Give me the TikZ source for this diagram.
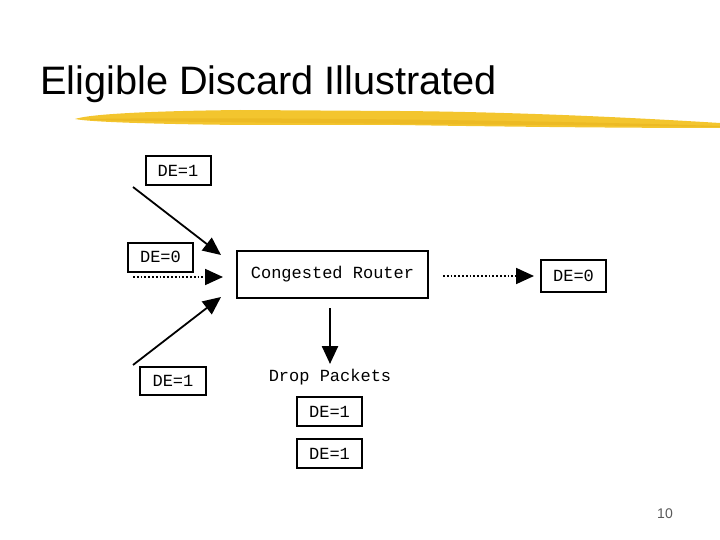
\documentclass[tikz,border=0pt]{standalone}
\usepackage{fontspec}
\setmainfont{Liberation Sans}
\newfontfamily\monofont{Liberation Mono}
\usepackage{tikz}
\usetikzlibrary{shapes,arrows,arrows.meta,positioning}
\definecolor{brush}{RGB}{243, 197, 46}
\definecolor{brushdark}{RGB}{232, 180, 30}

\tikzset{
  debox/.style={draw, line width=2pt, font=\monofont\fontsize{17}{17}\selectfont, minimum width=65pt, minimum height=29pt, inner sep=0pt},
  solidarrow/.style={line width=1.8pt, -{Triangle[length=18pt,width=16pt]}},
  dotarrow/.style={line width=1.8pt, dotted, -{Triangle[length=18pt,width=16pt]}}
}

\begin{document}
\begin{tikzpicture}[x=1pt,y=-1pt]
\useasboundingbox (0,0) rectangle (720,540);
\node [anchor=base west, inner sep=0pt, font=\fontsize{39.7}{44}\selectfont] (title) at (40,95) {Eligible Discard Illustrated};
% yellow brush line under the title
\fill [brush] (75,119) .. controls (90,114) and (150,111) .. (240,110) -- (400,111) .. controls (520,112) and (640,118) .. (720,123) -- (720,128) .. controls (640,128) and (520,127) .. (400,125) -- (240,125) .. controls (150,124) and (90,122) .. (75,119) -- cycle;
\fill [brushdark, opacity=0.6] (90,119) .. controls (200,117) and (500,119) .. (720,126) -- (720,127) .. controls (500,124) and (200,123) .. (90,120) -- cycle;

\node [debox] (de1top) at (178,171) {DE=1};
\node [debox] (de0left) at (160.5,257) {DE=0};
\node [debox, minimum width=191pt, minimum height=47pt] (router) at (332.5,274.5) {Congested Router};
\node [debox, minimum height=32pt] (de0right) at (573.5,276) {DE=0};
\node [debox, minimum width=66pt, minimum height=28pt] (de1low) at (173,381) {DE=1};
\node [font=\monofont\fontsize{17}{17}\selectfont] (drop) at (330,377) {Drop Packets};
\node [debox] (drop1) at (329.5,411.5) {DE=1};
\node [debox] (drop2) at (329.5,453.5) {DE=1};
\node [font=\fontsize{14}{16}\selectfont, text=black!65] (pagenum) at (665,514) {10};

\coordinate (intop) at (133,187);
\coordinate (inmid) at (133,277);
\coordinate (inlow) at (133,365);
\coordinate (outtop) at (221,255);
\coordinate (outmid) at (223,277);
\coordinate (outlow) at (221,297);
\coordinate (outstart) at (443,276);
\coordinate (outend) at (534,276);
\coordinate (downstart) at (330,308);
\coordinate (downend) at (330,364);

\draw [solidarrow] (intop) -- (outtop);
\draw [dotarrow] (inmid) -- (outmid);
\draw [solidarrow] (inlow) -- (outlow);
\draw [line width=2.5pt, -{Triangle[length=18pt,width=16pt]}] (downstart) -- (downend);
\draw [dotarrow] (outstart) -- (outend);
\end{tikzpicture}
\end{document}
